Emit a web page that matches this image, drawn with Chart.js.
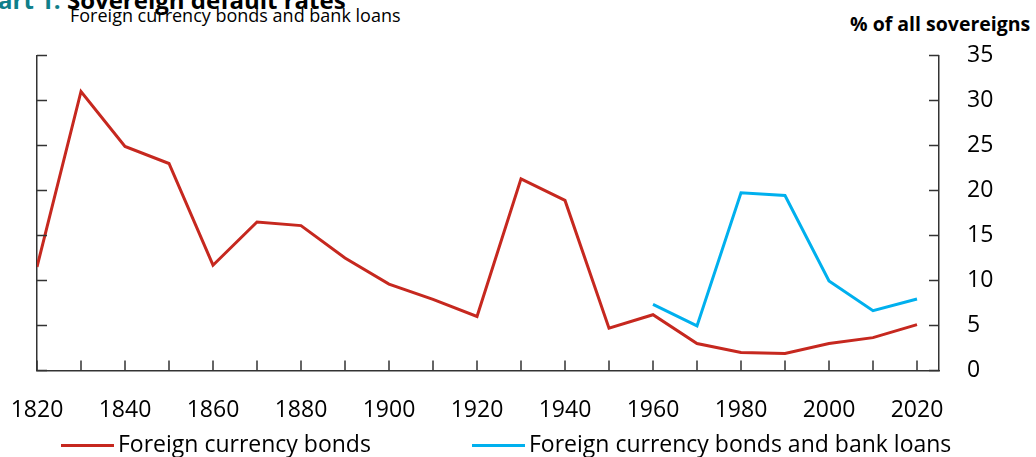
<!DOCTYPE html>
<html lang="en">
<head>
  <meta charset="UTF-8">
  <title>Sovereign default rates</title>
  <script src="https://cdn.jsdelivr.net/npm/chart.js"></script>
  <style>
    html, body { margin: 0; padding: 0; background: #fff; overflow: hidden; }
    body { width: 1036px; height: 457px; position: relative; font-family: "Open Sans", "Noto Sans", sans-serif; color: #000; }
    #grafico { position: absolute; left: 0; top: 0; }
    .txt { position: absolute; white-space: nowrap; }
    .titulo { left: -33px; top: -17px; font-size: 24px; font-weight: bold; }
    .titulo span { color: #0f7f8a; }
    .sub { left: 70px; top: 3px; font-size: 18px; }
    .unid { left: 850px; top: 10px; font-size: 19.5px; font-weight: bold; }
    .leg { top: 427px; font-size: 23px; }
    .leg i { position: absolute; top: 17px; width: 53px; height: 3px; }
  </style>
</head>
<body>
  <div class="txt titulo"><span>Chart 1:</span> Sovereign default rates</div>
  <div class="txt sub">Foreign currency bonds and bank loans</div>
  <div class="txt unid">% of all sovereigns</div>
  <canvas id="grafico" width="1036" height="457"></canvas>
  <div id="legenda"></div>

<script>
  // dados (percentual de soberanos em default)
  const anos = [1820, 1830, 1840, 1850, 1860, 1870, 1880, 1890, 1900, 1910, 1920,
    1930, 1940, 1950, 1960, 1970, 1980, 1990, 2000, 2010, 2020];
  const titulos = [11.5, 31.0, 24.9, 23.0, 11.7, 16.5, 16.1, 12.5, 9.6, 7.9, 6.0,
    21.3, 18.9, 4.7, 6.2, 3.0, 2.0, 1.9, 3.0, 3.65, 5.1];
  const titulosEmprestimos = [null, null, null, null, null, null, null, null, null, null, null,
    null, null, null, 7.35, 4.95, 19.75, 19.45, 9.95, 6.65, 7.95];
  const rotulosX = [1820, 1840, 1860, 1880, 1900, 1920, 1940, 1960, 1980, 2000, 2020];
  const rotulosY = [0, 5, 10, 15, 20, 25, 30, 35];

  const series = [
    { nome: 'Foreign currency bonds', valores: titulos, cor: '#c6281f', legX: 61 },
    { nome: 'Foreign currency bonds and bank loans', valores: titulosEmprestimos, cor: '#00b0ee', legX: 472 }
  ];

  // marcas de escala para dentro do grafico
  const marcasInternas = {
    id: 'marcasInternas',
    afterDatasetsDraw(chart) {
      const ctx = chart.ctx;
      const area = chart.chartArea;
      const x = chart.scales.x;
      const y = chart.scales.y;
      ctx.save();
      ctx.strokeStyle = '#333';
      ctx.lineWidth = 1.5;
      ctx.beginPath();
      for (let i = 0; i < anos.length; i++) {
        const px = x.getPixelForValue(anos[i]);
        ctx.moveTo(px, area.bottom);
        ctx.lineTo(px, area.bottom - 10);
      }
      for (let i = 0; i < rotulosY.length; i++) {
        const py = y.getPixelForValue(rotulosY[i]);
        ctx.moveTo(area.left, py);
        ctx.lineTo(area.left + 10, py);
        ctx.moveTo(area.right, py);
        ctx.lineTo(area.right - 10, py);
      }
      ctx.stroke();
      ctx.restore();
    }
  };

  const dados = {
    datasets: series.map(function (s) {
      return {
        label: s.nome,
        data: anos.map(function (a, i) { return { x: a, y: s.valores[i] }; }),
        borderColor: s.cor,
        backgroundColor: s.cor,
        borderWidth: 3,
        pointRadius: 0,
        tension: 0,
        spanGaps: false
      };
    })
  };

  const eixoBorda = { display: true, color: '#333', width: 1.5 };

  const config = {
    type: 'line',
    data: dados,
    options: {
      responsive: false,
      animation: false,
      layout: { padding: { left: 37, top: 55.5, right: 0, bottom: 0 } },
      plugins: { legend: { display: false }, tooltip: { enabled: false } },
      scales: {
        x: {
          type: 'linear',
          min: 1820,
          max: 2025,
          grid: { display: false, drawTicks: false },
          border: eixoBorda,
          afterBuildTicks: function (scale) {
            scale.ticks = rotulosX.map(function (v) { return { value: v }; });
          },
          afterFit: function (scale) {
            scale.height = 457 - 370.5;
            scale.paddingLeft = 0;
            scale.paddingRight = 0;
          },
          ticks: {
            padding: 26,
            maxRotation: 0,
            autoSkip: false,
            color: '#000',
            font: { family: '"Open Sans", "Noto Sans", sans-serif', size: 23 },
            callback: function (v) { return String(v); }
          }
        },
        y: {
          position: 'right',
          min: 0,
          max: 35,
          grid: { display: false, drawTicks: false },
          border: eixoBorda,
          afterBuildTicks: function (scale) {
            scale.ticks = rotulosY.map(function (v) { return { value: v }; });
          },
          afterFit: function (scale) { scale.width = 1036 - 939; },
          ticks: {
            padding: 28,
            color: '#000',
            font: { family: '"Open Sans", "Noto Sans", sans-serif', size: 23 }
          }
        },
        yEsq: {
          position: 'left',
          min: 0,
          max: 35,
          grid: { display: false, drawTicks: false },
          border: eixoBorda,
          ticks: { display: false },
          afterFit: function (scale) { scale.width = 0; }
        }
      }
    },
    plugins: [marcasInternas]
  };

  new Chart(document.getElementById('grafico'), config);

  // legenda em html, montada a partir das series
  const legenda = document.getElementById('legenda');
  series.forEach(function (s) {
    const item = document.createElement('div');
    item.className = 'txt leg';
    item.style.left = s.legX + 'px';
    item.innerHTML = '<i style="background:' + s.cor + '"></i><span style="margin-left:57px">' + s.nome + '</span>';
    legenda.appendChild(item);
  });
</script>
</body>
</html>
